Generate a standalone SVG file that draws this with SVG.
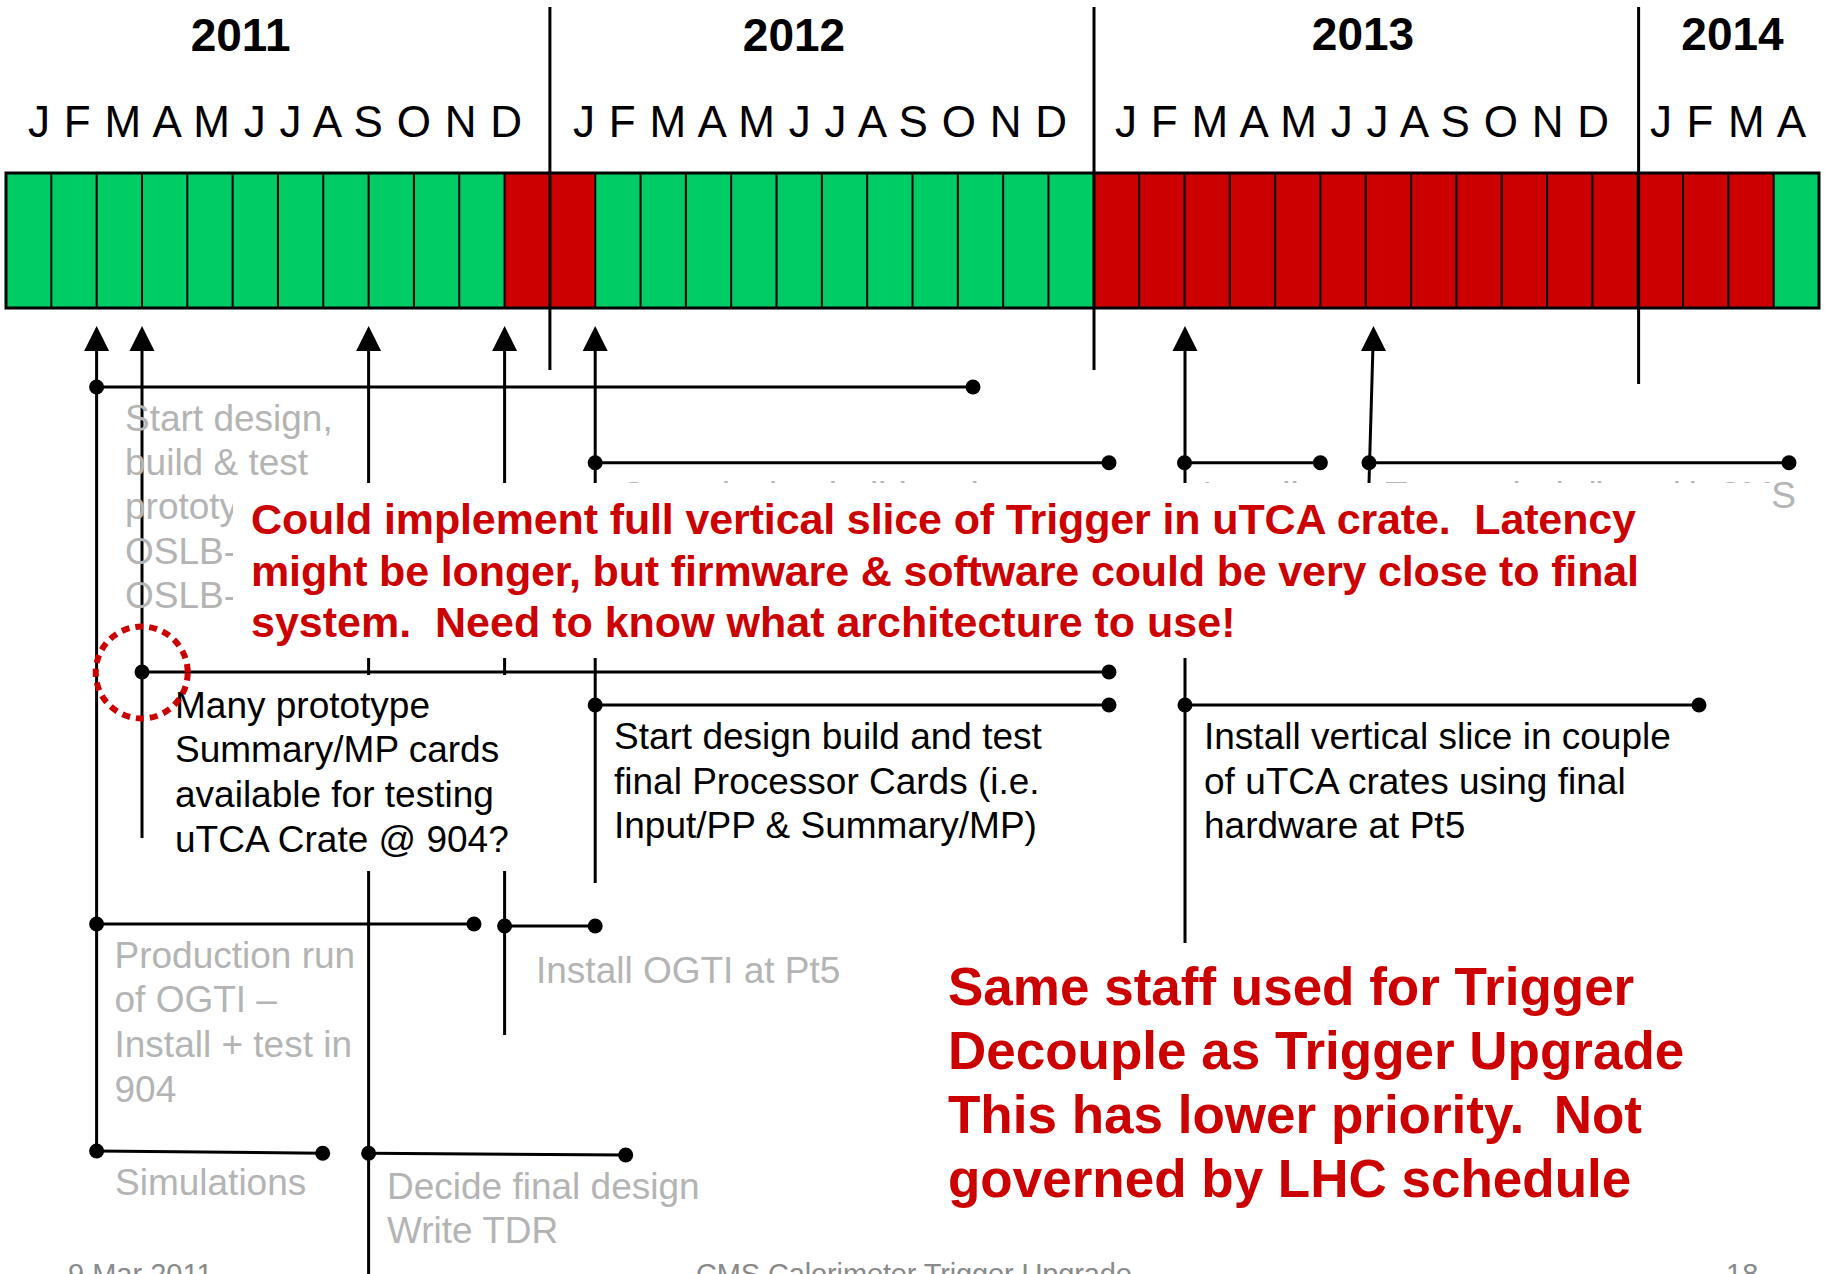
<svg xmlns="http://www.w3.org/2000/svg" xmlns:xlink="http://www.w3.org/1999/xlink" width="1825" height="1274" viewBox="0 0 1825 1274">
  <style>
    text { font-family: "Liberation Sans", Arial, sans-serif; }
    .year { font-size: 46px; font-weight: bold; fill: #000; text-anchor: middle; }
    .month { font-size: 44px; fill: #000; }
    .ln { fill: none; stroke: #000; stroke-width: 3; }
    .sep { fill: none; stroke: #000; stroke-width: 2; }
    .note { font-size: 37px; fill: #000; }
    .old { font-size: 37px; fill: #b4b4b4; }
    .alert { font-weight: bold; fill: #cc0000; white-space: pre; }
    .foot { font-size: 29px; fill: #8a8a8a; }
    .mask { fill: #fff; stroke: none; }
  </style>
  <defs>
    <path id="ah" d="M0 0 L-12.5 25 L12.5 25 Z" fill="#000"/>
    <circle id="dot" r="7.5" fill="#000"/>
  </defs>

  <rect width="1825" height="1274" fill="#fff"/>

  <!-- year headings -->
  <g id="years">
    <text class="year" x="240.6" y="51">2011</text>
    <text class="year" x="794" y="51">2012</text>
    <text class="year" x="1363" y="50">2013</text>
    <text class="year" x="1732.5" y="50">2014</text>
  </g>

  <!-- month initials -->
  <g id="months">
    <text class="month" x="28" y="137" textLength="494">J F M A M J J A S O N D</text>
    <text class="month" x="573" y="137" textLength="494">J F M A M J J A S O N D</text>
    <text class="month" x="1115" y="137" textLength="494">J F M A M J J A S O N D</text>
    <text class="month" x="1650" y="137" textLength="156">J F M A</text>
  </g>

  <!-- month bar: green = free, red = busy -->
  <g id="bar">
    <rect x="6" y="173" width="1813" height="135" fill="#00cc66"/>
    <rect x="504.58" y="173" width="90.65" height="135" fill="#cc0000"/>
    <rect x="1093.8" y="173" width="679.88" height="135" fill="#cc0000"/>
    <path class="sep" d="M51.33 173V308M96.65 173V308M141.98 173V308M187.3 173V308M232.63 173V308M277.95 173V308M323.28 173V308M368.6 173V308M413.93 173V308M459.25 173V308M504.58 173V308M549.9 173V308M595.23 173V308M640.55 173V308M685.88 173V308M731.2 173V308M776.53 173V308M821.85 173V308M867.18 173V308M912.5 173V308M957.83 173V308M1003.15 173V308M1048.48 173V308M1093.8 173V308M1139.13 173V308M1184.45 173V308M1229.78 173V308M1275.1 173V308M1320.43 173V308M1365.75 173V308M1411.08 173V308M1456.4 173V308M1501.73 173V308M1547.05 173V308M1592.38 173V308M1637.7 173V308M1683.03 173V308M1728.35 173V308M1773.68 173V308"/>
    <rect x="6" y="173" width="1813" height="135" fill="none" stroke="#000" stroke-width="3"/>
  </g>

  <!-- year dividers -->
  <g id="dividers">
    <path class="ln" d="M549.9 7V370M1094 7V370M1638.6 7V384"/>
  </g>

  <!-- milestone connectors -->
  <g id="connectors">
    <path class="ln" d="M96.6 345V1151M142 345V838M368.6 345V1274M504.6 345V1035M595.2 345V883M1185 345V943M1373 345L1369 483"/>
    <path class="ln" d="M96.6 387H973M595.2 462.7H1109M1184.5 462.7H1320.4M1369 462.7H1789M142 672H1109M595.2 705H1109M1185 705H1699M96.6 924H474M504.6 926H595.2M96.6 1151L322.7 1153.3M368.6 1153.3L625.7 1155"/>
    <use xlink:href="#ah" x="96.6" y="326"/>
    <use xlink:href="#ah" x="142" y="326"/>
    <use xlink:href="#ah" x="368.6" y="326"/>
    <use xlink:href="#ah" x="504.6" y="326"/>
    <use xlink:href="#ah" x="595.2" y="326"/>
    <use xlink:href="#ah" x="1185" y="326"/>
    <use xlink:href="#ah" x="1373.5" y="326"/>
    <use xlink:href="#dot" x="96.6" y="387"/>
    <use xlink:href="#dot" x="973" y="387"/>
    <use xlink:href="#dot" x="595.2" y="462.7"/>
    <use xlink:href="#dot" x="1109" y="462.7"/>
    <use xlink:href="#dot" x="1184.5" y="462.7"/>
    <use xlink:href="#dot" x="1320.4" y="462.7"/>
    <use xlink:href="#dot" x="1369" y="462.7"/>
    <use xlink:href="#dot" x="1789" y="462.7"/>
    <use xlink:href="#dot" x="142" y="672"/>
    <use xlink:href="#dot" x="1109" y="672"/>
    <use xlink:href="#dot" x="595.2" y="705"/>
    <use xlink:href="#dot" x="1109" y="705"/>
    <use xlink:href="#dot" x="1185" y="705"/>
    <use xlink:href="#dot" x="1699" y="705"/>
    <use xlink:href="#dot" x="96.6" y="924"/>
    <use xlink:href="#dot" x="474" y="924"/>
    <use xlink:href="#dot" x="504.6" y="926"/>
    <use xlink:href="#dot" x="595.2" y="926"/>
    <use xlink:href="#dot" x="96.6" y="1151"/>
    <use xlink:href="#dot" x="322.7" y="1153.3"/>
    <use xlink:href="#dot" x="368.6" y="1153.3"/>
    <use xlink:href="#dot" x="625.7" y="1155"/>
  </g>

  <!-- greyed-out task labels -->
  <g id="task-prototype">
    <text class="old" x="125" y="430.7">Start design,</text>
    <text class="old" x="125" y="475">build &amp; test</text>
    <text class="old" x="125" y="519.3">prototype</text>
    <text class="old" x="125" y="563.7">OSLB-</text>
    <text class="old" x="125" y="608">OSLB-</text>
  </g>
  <g id="task-final-start">
    <text class="old" x="621" y="508">Start design build and test</text>
  </g>
  <g id="task-install">
    <text class="old" x="1202" y="508">Install</text>
  </g>
  <g id="task-cms-test">
    <text class="old" x="1385" y="508" textLength="411">Test vertical slice with CMS</text>
  </g>
  <g id="task-ogti-install">
    <text class="old" x="536" y="983.3">Install OGTI at Pt5</text>
  </g>
  <g id="task-production">
    <text class="old" x="114.5" y="968.3">Production run</text>
    <text class="old" x="114.5" y="1012.3">of OGTI –</text>
    <text class="old" x="114.5" y="1056.7">Install + test in</text>
    <text class="old" x="114.5" y="1101.7">904</text>
  </g>
  <g id="task-simulations">
    <text class="old" x="115" y="1195">Simulations</text>
  </g>
  <g id="task-tdr">
    <text class="old" x="387" y="1199.3">Decide final design</text>
    <text class="old" x="387" y="1242.7">Write TDR</text>
  </g>

  <!-- callout: vertical slice in uTCA -->
  <g id="callout-slice">
    <rect class="mask" x="233" y="483" width="1539" height="175"/>
    <text class="alert" font-size="43" x="251" y="534" textLength="1385" xml:space="preserve">Could implement full vertical slice of Trigger in uTCA crate.  Latency</text>
    <text class="alert" font-size="43" x="251" y="586" textLength="1388">might be longer, but firmware &amp; software could be very close to final</text>
    <text class="alert" font-size="43" x="251" y="637" xml:space="preserve">system.  Need to know what architecture to use!</text>
  </g>

  <g id="task-prototype-cards">
    <rect class="mask" x="165" y="675" width="395" height="196"/>
    <text class="note" x="175" y="718">Many prototype</text>
    <text class="note" x="175" y="762">Summary/MP cards</text>
    <text class="note" x="175" y="807">available for testing</text>
    <text class="note" x="175" y="851.5">uTCA Crate @ 904?</text>
  </g>

  <g id="task-final-cards">
    <text class="note" x="614" y="749">Start design build and test</text>
    <text class="note" x="614" y="793.5">final Processor Cards (i.e.</text>
    <text class="note" x="614" y="838">Input/PP &amp; Summary/MP)</text>
  </g>

  <g id="task-slice-install">
    <text class="note" x="1204" y="749">Install vertical slice in couple</text>
    <text class="note" x="1204" y="793.5">of uTCA crates using final</text>
    <text class="note" x="1204" y="838">hardware at Pt5</text>
  </g>

  <!-- callout: staffing -->
  <g id="callout-staff">
    <text class="alert" font-size="53" x="948" y="1005">Same staff used for Trigger</text>
    <text class="alert" font-size="53" x="948" y="1069">Decouple as Trigger Upgrade</text>
    <text class="alert" font-size="53" x="948" y="1133" xml:space="preserve">This has lower priority.  Not</text>
    <text class="alert" font-size="53" x="948" y="1197">governed by LHC schedule</text>
  </g>

  <!-- highlight ring on the prototype-cards milestone -->
  <g id="highlight">
    <circle cx="141.7" cy="672.5" r="46" fill="none" stroke="#cc0000" stroke-width="6" stroke-dasharray="8 6"/>
  </g>

  <!-- slide footer -->
  <g id="footer">
    <text class="foot" x="68" y="1284">9 Mar 2011</text>
    <text class="foot" x="696" y="1284" textLength="436">CMS Calorimeter Trigger Upgrade</text>
    <text class="foot" x="1726" y="1284">18</text>
  </g>
</svg>
